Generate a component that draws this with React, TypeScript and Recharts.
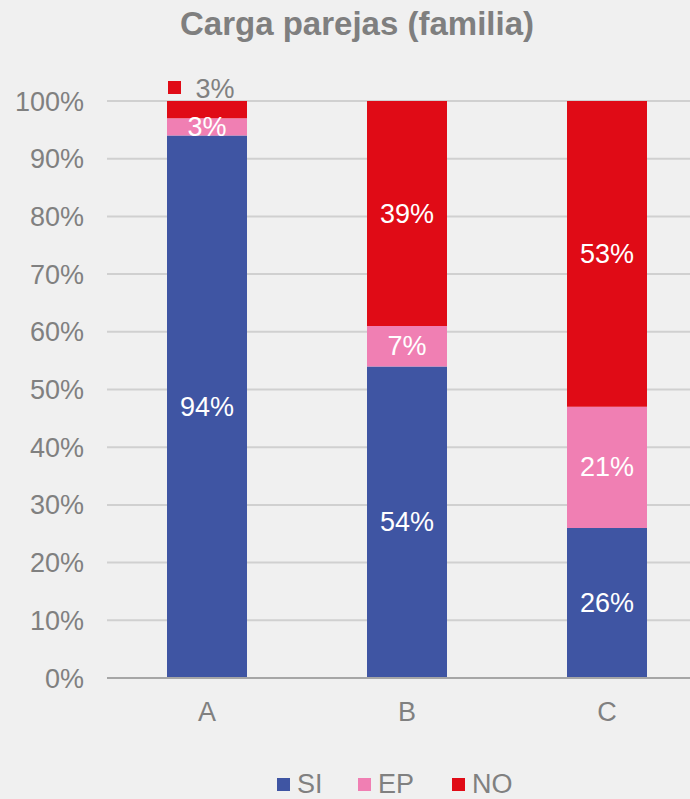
import React from 'react';
import {
  BarChart,
  Bar,
  XAxis,
  YAxis,
  CartesianGrid,
  Legend,
  LabelList,
} from 'recharts';

const categories = ['A', 'B', 'C'];
const si = [94, 54, 26];
const ep = [3, 7, 21];
const no = [3, 39, 53];
const yTicks = [0, 10, 20, 30, 40, 50, 60, 70, 80, 90, 100];

const series = [
  { key: 'SI', values: si, color: '#3F55A3' },
  { key: 'EP', values: ep, color: '#F07FB3' },
  { key: 'NO', values: no, color: '#E00B16' },
];

const data = categories.map((name, i) => ({
  name,
  SI: si[i],
  EP: ep[i],
  NO: no[i],
}));

const FONT = '"Liberation Sans", Arial, sans-serif';
const GREY = '#808080';
const FS = 27;

function InsideLabel(props: any) {
  const { x, y, width, height, value } = props;
  return (
    <text
      x={x + width / 2}
      y={y + height / 2}
      fill="#ffffff"
      fontSize={FS}
      fontFamily={FONT}
      textAnchor="middle"
      dominantBaseline="central"
    >
      {value}%
    </text>
  );
}

function NoLabel(props: any) {
  const { x, y, width, height, value } = props;
  if (value < 5) {
    // small segment: label sits above the bar with a legend key
    return (
      <g>
        <rect x={x + 1} y={y - 20} width={13} height={13} fill="#E00B16" />
        <text
          x={x + width / 2 + 8}
          y={y - 12}
          fill={GREY}
          fontSize={FS}
          fontFamily={FONT}
          textAnchor="middle"
          dominantBaseline="central"
        >
          {value}%
        </text>
      </g>
    );
  }
  return <InsideLabel {...props} />;
}

const legendWidths: Record<string, number> = { SI: 81, EP: 94, NO: 80 };

function LegendContent() {
  return (
    <div
      style={{
        display: 'flex',
        height: 30,
        alignItems: 'center',
        fontFamily: FONT,
        paddingLeft: 277,
      }}
    >
      {series.map((s) => (
        <div key={s.key} style={{ display: 'flex', alignItems: 'center', width: legendWidths[s.key] }}>
          <div style={{ width: 13, height: 13, background: s.color, marginRight: 7, flexShrink: 0 }} />
          <span style={{ fontSize: FS, lineHeight: 1, color: GREY }}>{s.key}</span>
        </div>
      ))}
    </div>
  );
}

export default function App() {
  return (
    <div
      style={{
        position: 'fixed',
        top: 0,
        left: 0,
        width: 690,
        height: 799,
        overflow: 'hidden',
        background: '#F0F0F0',
      }}
    >
      <div
        style={{
          position: 'absolute',
          top: 5,
          left: 0,
          width: 714,
          textAlign: 'center',
          fontFamily: FONT,
          fontWeight: 'bold',
          fontSize: 33,
          color: '#7F7F7F',
        }}
      >
        Carga parejas (familia)
      </div>
      <BarChart
        width={707}
        height={799}
        data={data}
        margin={{ top: 101, right: 0, left: 0, bottom: 41 }}
        style={{ position: 'absolute', top: 0, left: 0 }}
      >
        <CartesianGrid vertical={false} stroke="#D0D0D0" strokeWidth={2} />
        <XAxis
          dataKey="name"
          axisLine={{ stroke: '#A6A6A6', strokeWidth: 2 }}
          tickLine={false}
          height={50}
          tickMargin={18}
          tick={{ fill: GREY, fontSize: FS, fontFamily: FONT }}
        />
        <YAxis
          domain={[0, 100]}
          ticks={yTicks}
          interval={0}
          width={107}
          axisLine={false}
          tickLine={false}
          tickMargin={17}
          tickFormatter={(v: number) => `${v}%`}
          tick={{ fill: GREY, fontSize: FS, fontFamily: FONT }}
        />
        <Legend
          verticalAlign="bottom"
          content={() => <LegendContent />}
          wrapperStyle={{ bottom: 0, left: 0, width: 707 }}
        />
        {series.map((s) => (
          <Bar
            key={s.key}
            dataKey={s.key}
            stackId="a"
            fill={s.color}
            barSize={80}
            isAnimationActive={false}
          >
            <LabelList dataKey={s.key} content={s.key === 'NO' ? NoLabel : InsideLabel} />
          </Bar>
        ))}
      </BarChart>
    </div>
  );
}
